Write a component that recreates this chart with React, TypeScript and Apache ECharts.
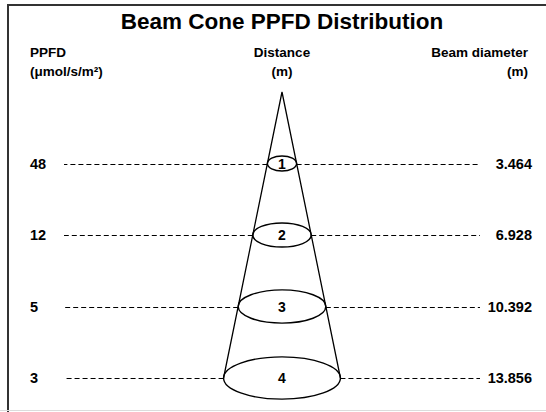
import React, { useEffect, useRef } from "react";
import * as echarts from "echarts";

const titleText = "Beam Cone PPFD Distribution";
const distances = [1, 2, 3, 4];
const ppfdValues = [48, 12, 5, 3];
const beamDiameters = [3.464, 6.928, 10.392, 13.856];
const headerLeft = ["PPFD", "(μmol/s/m²)"];
const headerMid = ["Distance", "(m)"];
const headerRight = ["Beam diameter", "(m)"];

const FONT = '"Liberation Sans", Arial, Helvetica, sans-serif';

export default function App() {
  const ref = useRef<HTMLDivElement>(null);
  useEffect(() => {
    if (!ref.current) return;
    const chart = echarts.init(ref.current, undefined, { renderer: "svg" });
    const W = 546;
    const LEFT_START = 64;
    const RIGHT_END = 480;
    const LEFT_LABEL_X = 30;
    const RIGHT_LABEL_X = 532;
    const maxD = beamDiameters[beamDiameters.length - 1];
    const lastDist = distances[distances.length - 1];

    const rows = distances.map((d, i) => [beamDiameters[i], d, ppfdValues[i]]);

    const headerText = (text: string, x: number, y: number, align: string) => ({
      type: "text",
      x,
      y,
      style: {
        text,
        align,
        verticalAlign: "middle",
        font: `bold 13.5px ${FONT}`,
        fill: "#000",
      },
    });

    const option: any = {
      animation: false,
      backgroundColor: "#fff",
      grid: { left: 18, right: 0, top: 92, bottom: 34 },
      xAxis: { type: "value", min: -31.3, max: 31.3, show: false },
      yAxis: { type: "value", min: 0, max: 4, inverse: true, show: false },
      graphic: [
        {
          type: "rect",
          shape: { x: 8, y: 5, width: 700, height: 700 },
          style: { fill: "none", stroke: "#333", lineWidth: 2 },
          z: 10,
        },
        {
          type: "line",
          shape: { x1: 0, y1: 410.5, x2: W, y2: 410.5 },
          style: { stroke: "#dcdcdc", lineWidth: 1 },
          z: 11,
        },
        {
          type: "text",
          x: 282,
          y: 21,
          style: {
            text: titleText,
            align: "center",
            verticalAlign: "middle",
            font: `bold 22.5px ${FONT}`,
            fill: "#000",
          },
        },
        headerText(headerLeft[0], 30, 52, "left"),
        headerText(headerLeft[1], 30, 71, "left"),
        headerText(headerMid[0], 282, 52, "center"),
        headerText(headerMid[1], 282, 71, "center"),
        headerText(headerRight[0], 528, 52, "right"),
        headerText(headerRight[1], 528, 71, "right"),
      ],
      series: [
        {
          type: "line",
          data: [
            [-maxD / 2, lastDist],
            [0, 0],
            [maxD / 2, lastDist],
          ],
          symbol: "none",
          lineStyle: { color: "#000", width: 1.3 },
          z: 1,
        },
        {
          type: "custom",
          data: rows,
          z: 2,
          renderItem: (params: any, api: any) => {
            const dia = api.value(0);
            const dist = api.value(1);
            const ppfd = api.value(2);
            const c = api.coord([0, dist]);
            const e = api.coord([dia / 2, dist]);
            const rx = e[0] - c[0];
            const ry = 3 + rx * 0.31;
            const ly = Math.round(c[1]) + 0.5;
            const lbl = `bold 14.5px ${FONT}`;
            return {
              type: "group",
              children: [
                {
                  type: "line",
                  shape: { x1: c[0] - rx, y1: ly, x2: LEFT_START, y2: ly },
                  style: { stroke: "#000", lineWidth: 1, lineDash: [5, 3] },
                },
                {
                  type: "line",
                  shape: { x1: c[0] + rx, y1: ly, x2: RIGHT_END, y2: ly },
                  style: { stroke: "#000", lineWidth: 1, lineDash: [5, 3] },
                },
                {
                  type: "ellipse",
                  shape: { cx: c[0], cy: c[1], rx, ry },
                  style: { fill: "rgba(255,255,255,0)", stroke: "#000", lineWidth: 1.4 },
                },
                {
                  type: "text",
                  x: c[0],
                  y: c[1],
                  style: { text: String(dist), align: "center", verticalAlign: "middle", font: `bold 14px ${FONT}`, fill: "#000" },
                },
                {
                  type: "text",
                  x: LEFT_LABEL_X,
                  y: c[1],
                  style: { text: String(ppfd), align: "left", verticalAlign: "middle", font: lbl, fill: "#000" },
                },
                {
                  type: "text",
                  x: RIGHT_LABEL_X,
                  y: c[1],
                  style: { text: Number(dia).toFixed(3), align: "right", verticalAlign: "middle", font: lbl, fill: "#000" },
                },
              ],
            };
          },
        },
      ],
    };
    chart.setOption(option);
    return () => chart.dispose();
  }, []);
  return (
    <div
      ref={ref}
      style={{ position: "fixed", left: 0, top: 0, width: 546, height: 412, background: "#fff" }}
    />
  );
}
